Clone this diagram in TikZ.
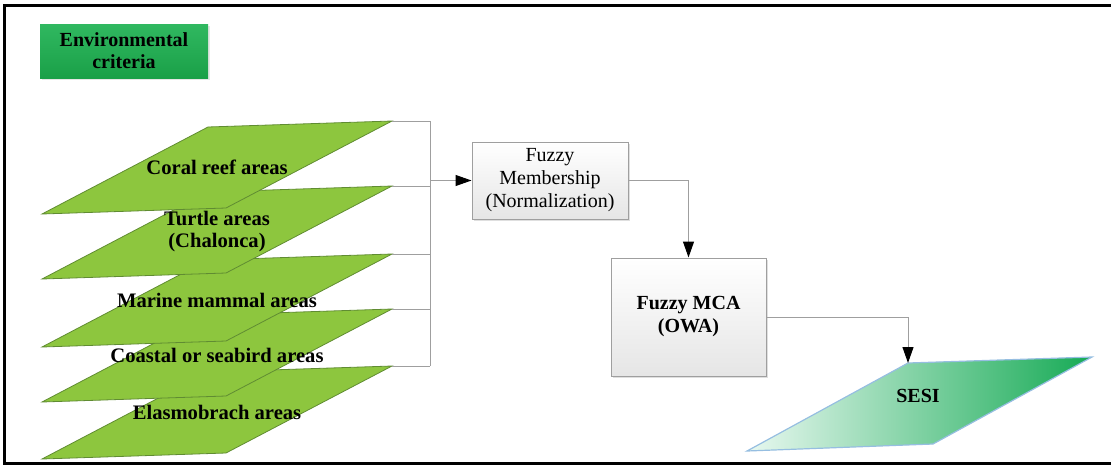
\documentclass[tikz,border=0pt]{standalone}
\usepackage{fontspec}
\setmainfont{LiberationSerif}[Extension=.ttf,UprightFont=*-Regular,BoldFont=*-Bold]
\usetikzlibrary{arrows.meta,shadows}

\definecolor{layergreen}{RGB}{141,198,62}
\definecolor{layeredge}{RGB}{96,140,50}
\definecolor{envgreen}{RGB}{26,160,72}
\definecolor{envlight}{RGB}{48,184,96}
\definecolor{sesigreen}{RGB}{22,170,85}
\definecolor{sesilight}{RGB}{232,248,240}
\definecolor{sesiedge}{RGB}{150,190,225}

\begin{document}
\begin{tikzpicture}
[x=0.5pt,y=-0.5pt,
 every node/.style={font=\fontsize{10}{11.5}\selectfont,align=center,inner sep=0pt},
 layer/.style={fill=layergreen,draw=layeredge,line width=0.4pt},
 layertext/.style={font=\fontsize{10.3}{11}\selectfont\bfseries},
 box/.style={draw=gray!75,top color=white,bottom color=gray!20,line width=0.5pt,
   drop shadow={shadow xshift=1pt,shadow yshift=-1pt,opacity=0.25}},
 link/.style={draw=gray!75,line width=0.5pt},
 flow/.style={link,-{Triangle[color=black,length=8pt,width=5.5pt]}}]

\useasboundingbox (0,0) rectangle (1111,466);
\draw[line width=1.5pt] (1111,5) -- (4,5) -- (4,463) -- (1111,463);

\node (env) at (124,51) [top color=envlight,bottom color=envgreen,minimum width=84pt,
  minimum height=27pt,font=\fontsize{10}{11}\selectfont\bfseries,
  drop shadow={shadow xshift=1pt,shadow yshift=-1pt,opacity=0.2}] {Environmental\\criteria};

% stacked criteria layers, lowest first
\foreach \name/\y in {elasmo/366,coastal/309,marine/254,turtle/186,coral/121}
  \draw[layer] (208,\y+6) -- (392,\y) coordinate (\name) -- (226,\y+87) -- (42,\y+93) -- cycle;

\foreach \name/\y/\txt in {coral/121/{Coral reef areas},turtle/186/{Turtle areas\\(Chalonca)},
    marine/254/{Marine mammal areas},coastal/309/{Coastal or seabird areas},
    elasmo/366/{Elasmobrach areas}}
  \node (\name-text) at (217,\y+46) [layertext] {\txt};

\node (member) at (550,180.5) [box,minimum width=78pt,minimum height=38.5pt]
  {Fuzzy\\Membership\\(Normalization)};
\node (mca) at (688.5,317) [box,minimum width=77.5pt,minimum height=59pt,
  font=\fontsize{10}{11.5}\selectfont\bfseries] {Fuzzy MCA\\(OWA)};

\coordinate (bus) at (430,180.5);
\foreach \name in {coral,turtle,marine,coastal,elasmo}
  \draw[link] (\name) -- (\name -| bus);
\draw[link] (coral -| bus) -- (elasmo -| bus);
\draw[flow] (bus) -- (member.west);
\draw[flow] (member.east) -| (mca.north);

\draw[left color=sesilight,right color=sesigreen,draw=sesiedge,line width=0.6pt]
  (908,363) coordinate (sesi) -- (1092,357) -- (933,444) -- (747,451) -- cycle;
\node (sesi-text) at (918,396) [font=\fontsize{10}{11}\selectfont\bfseries] {SESI};
\draw[flow] (mca.east) -| (sesi);
\end{tikzpicture}
\end{document}
